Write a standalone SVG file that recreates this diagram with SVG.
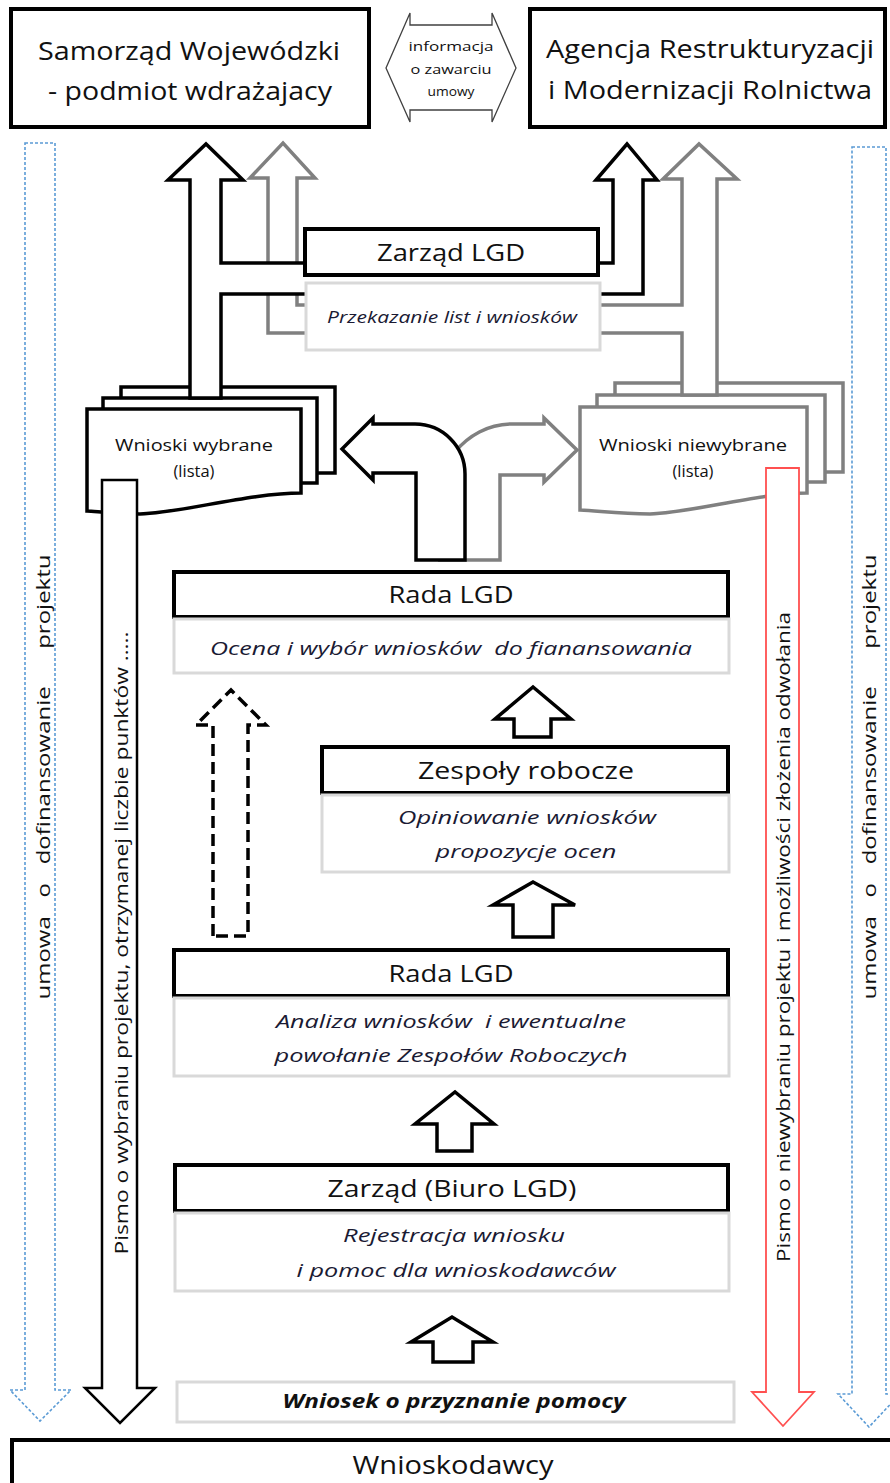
<svg xmlns="http://www.w3.org/2000/svg" width="890" height="1483" viewBox="0 0 890 1483">
<style>
text{font-family:"Open Sans","Noto Sans","Liberation Sans",sans-serif;fill:#111}
.box{fill:#fff;stroke:#000;stroke-width:4}
.sub{fill:#fff;stroke:#d9d9d9;stroke-width:3}
.title{font-size:24px;text-anchor:middle}
.big{font-size:26px;text-anchor:middle}
.it{font-size:19px;font-style:italic;text-anchor:middle;fill:#1a1a33}
.arr{fill:#fff;stroke:#000;stroke-width:3.5;stroke-linejoin:miter}
.garr{fill:#fff;stroke:#808080;stroke-width:3.5}
.blue{fill:none;stroke:#5b9bd5;stroke-width:1.6;stroke-dasharray:3 2}
.vt{font-size:19px;text-anchor:middle}
.sm{font-size:13.5px;text-anchor:middle}
</style>
<rect width="890" height="1483" fill="#fff"/>

<g id="connectors">
  <path class="blue" d="M25,143 H55 V1390 H71 L40,1421 L10,1390 H25 Z"/>
  <path class="blue" d="M852,147 H886 V1394 H900 L869,1427 L838,1394 H852 Z"/>
</g>

<g id="node-wnioski-wybrane">
  <path d="M121,387 H335 V473 H121 Z" fill="#fff" stroke="#000" stroke-width="3.5"/>
  <path d="M103,398 H317 V483 H103 Z" fill="#fff" stroke="#000" stroke-width="3.5"/>
  <path d="M87,409 H301 V493 C250,493 180,513 140,514 C110,514 95,511 87,511 Z" fill="#fff" stroke="#000" stroke-width="3.5"/>
  <text x="194" y="451" style="font-size:16.5px;text-anchor:middle" textLength="158" lengthAdjust="spacingAndGlyphs">Wnioski wybrane</text>
  <text x="194" y="477" style="font-size:16.5px;text-anchor:middle">(lista)</text>
</g>

<g id="node-wnioski-niewybrane">
  <path d="M615,383 H843 V472 H615 Z" fill="#fff" stroke="#808080" stroke-width="3.5"/>
  <path d="M597,395 H825 V482 H597 Z" fill="#fff" stroke="#808080" stroke-width="3.5"/>
  <path d="M580,407 H807 V493 C760,493 690,513 650,514 C620,514 600,511 580,510 Z" fill="#fff" stroke="#808080" stroke-width="3.5"/>
  <text x="693" y="451" style="font-size:16.5px;text-anchor:middle" textLength="188" lengthAdjust="spacingAndGlyphs">Wnioski niewybrane</text>
  <text x="693" y="477" style="font-size:16.5px;text-anchor:middle">(lista)</text>
</g>

<g id="connectors-main">
  <path class="garr" d="M268,333 V178 H250 L283,143 L315,178 H297 V305 H682 V179 H663 L699,144 L737,179 H717 V395 H682 V333 Z"/>
  <path class="arr" d="M190,398 V180 H168 L206,144 L243,180 H221 V263 H613 V180 H596 L627,144 L657,180 H643 V294 H221 V398 Z"/>
  <path class="garr" d="M465,560 H500 V475 H544 V482 L577,450 L544,418 V424 H512 C488,424 468,436 455,452 L440,560 Z"/>
  <path class="arr" d="M416,560 V473 H373 V480 L342,449 L373,418 V424 H415 A50,50 0 0 1 465,474 V560 Z"/>
  <path d="M213,936 V725 H196 L231,690 L266,725 H248 V936 Z" fill="none" stroke="#000" stroke-width="3.5" stroke-dasharray="12 6"/>
  <path class="arr" d="M514,737 V719 H495 L533,687 L571,719 H551 V737 Z"/>
  <path class="arr" d="M513,937 V905 H493 L533,882 L575,905 H553 V937 Z"/>
  <path class="arr" d="M437,1151 V1124 H415 L455,1092 L494,1124 H472 V1151 Z"/>
  <path class="arr" d="M433,1362 V1342 H411 L452,1317 L493,1342 H473 V1362 Z"/>
  <path d="M102,480 H137 V1388 H155 L120,1423 L85,1388 H102 Z" fill="#fff" stroke="#000" stroke-width="2.5"/>
  <path d="M766,468 H799 V1392 H814 L783,1426 L752,1392 H766 Z" fill="#fff" stroke="#ff5050" stroke-width="1.8"/>
  <path d="M386,68 L410,13 V25 H492 V13 L516,68 L492,122 V110 H410 V122 Z" fill="#fff" stroke="#404040" stroke-width="1.3"/>
</g>

<g id="labels-vertical">
  <text class="vt" xml:space="preserve" transform="translate(50,777) rotate(-90)" textLength="445" lengthAdjust="spacingAndGlyphs">umowa   o   dofinansowanie      projektu</text>
  <text class="vt" xml:space="preserve" transform="translate(876,777) rotate(-90)" textLength="445" lengthAdjust="spacingAndGlyphs">umowa   o   dofinansowanie      projektu</text>
  <text class="vt" transform="translate(128,943) rotate(-90)" textLength="623" lengthAdjust="spacingAndGlyphs">Pismo o wybraniu projektu, otrzymanej liczbie punktów …..</text>
  <text class="vt" transform="translate(790,937) rotate(-90)" textLength="650" lengthAdjust="spacingAndGlyphs">Pismo o niewybraniu projektu i możliwości złożenia odwołania</text>
  <text class="sm" x="451" y="51" textLength="85" lengthAdjust="spacingAndGlyphs">informacja</text>
  <text class="sm" x="451" y="74" textLength="81" lengthAdjust="spacingAndGlyphs">o zawarciu</text>
  <text class="sm" x="451" y="96" textLength="47" lengthAdjust="spacingAndGlyphs">umowy</text>
</g>

<g id="node-samorzad">
  <rect class="box" x="11" y="9" width="358" height="118"/>
  <text class="big" x="189" y="60" textLength="302" lengthAdjust="spacingAndGlyphs">Samorząd Wojewódzki</text>
  <text class="big" x="190" y="100" textLength="284" lengthAdjust="spacingAndGlyphs">- podmiot wdrażajacy</text>
</g>

<g id="node-arimr">
  <rect class="box" x="530" y="9" width="355" height="118"/>
  <text class="big" x="710" y="58" textLength="328" lengthAdjust="spacingAndGlyphs">Agencja Restrukturyzacji</text>
  <text class="big" x="710" y="99" textLength="324" lengthAdjust="spacingAndGlyphs">i Modernizacji Rolnictwa</text>
</g>

<g id="node-zarzad-lgd">
  <rect class="box" x="305" y="229" width="293" height="46"/>
  <text class="title" x="451" y="261" textLength="148" lengthAdjust="spacingAndGlyphs">Zarząd LGD</text>
  <rect class="sub" x="306" y="283" width="294" height="67"/>
  <text x="452" y="323" style="font-size:16px;font-style:italic;text-anchor:middle;fill:#1a1a33" textLength="250" lengthAdjust="spacingAndGlyphs">Przekazanie list i wniosków</text>
</g>

<g id="node-rada-ocena">
  <rect class="box" x="174" y="572" width="554" height="45"/>
  <text class="title" x="451" y="603" textLength="125" lengthAdjust="spacingAndGlyphs">Rada LGD</text>
  <rect class="sub" x="174" y="619" width="555" height="54"/>
  <text class="it" x="451" y="655" xml:space="preserve" textLength="482" lengthAdjust="spacingAndGlyphs">Ocena i wybór wniosków  do fianansowania</text>
</g>

<g id="node-zespoly">
  <rect class="box" x="322" y="747" width="406" height="46"/>
  <text class="title" x="526" y="779" textLength="216" lengthAdjust="spacingAndGlyphs">Zespoły robocze</text>
  <rect class="sub" x="322" y="795" width="407" height="77"/>
  <text class="it" x="527" y="824" textLength="258" lengthAdjust="spacingAndGlyphs">Opiniowanie wniosków</text>
  <text class="it" x="526" y="858" textLength="181" lengthAdjust="spacingAndGlyphs">propozycje ocen</text>
</g>

<g id="node-rada-analiza">
  <rect class="box" x="174" y="950" width="554" height="46"/>
  <text class="title" x="451" y="982" textLength="125" lengthAdjust="spacingAndGlyphs">Rada LGD</text>
  <rect class="sub" x="174" y="998" width="555" height="78"/>
  <text class="it" x="451" y="1028" xml:space="preserve" textLength="350" lengthAdjust="spacingAndGlyphs">Analiza wniosków  i ewentualne</text>
  <text class="it" x="451" y="1062" textLength="353" lengthAdjust="spacingAndGlyphs">powołanie Zespołów Roboczych</text>
</g>

<g id="node-zarzad-biuro">
  <rect class="box" x="175" y="1165" width="553" height="46"/>
  <text class="title" x="452" y="1197" textLength="249" lengthAdjust="spacingAndGlyphs">Zarząd (Biuro LGD)</text>
  <rect class="sub" x="175" y="1213" width="554" height="78"/>
  <text class="it" x="454" y="1242" textLength="222" lengthAdjust="spacingAndGlyphs">Rejestracja wniosku</text>
  <text class="it" x="456" y="1277" textLength="319" lengthAdjust="spacingAndGlyphs">i pomoc dla wnioskodawców</text>
</g>

<g id="node-wniosek">
  <rect class="sub" x="177" y="1382" width="557" height="40"/>
  <text x="454" y="1408" style="font-size:19px;font-style:italic;font-weight:bold;text-anchor:middle" textLength="343" lengthAdjust="spacingAndGlyphs">Wniosek o przyznanie pomocy</text>
</g>

<g id="node-wnioskodawcy">
  <rect class="box" x="12" y="1440" width="900" height="60"/>
  <text class="big" x="453" y="1474" textLength="201" lengthAdjust="spacingAndGlyphs">Wnioskodawcy</text>
</g>
</svg>
